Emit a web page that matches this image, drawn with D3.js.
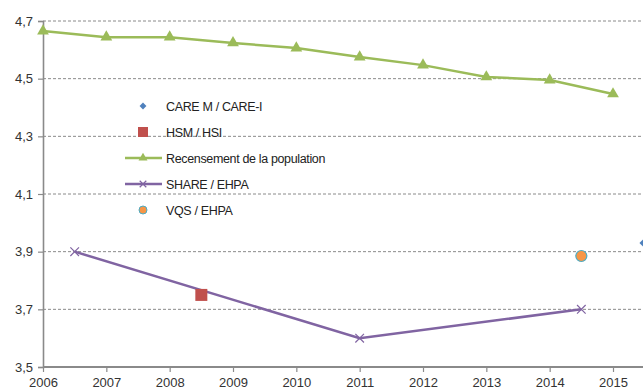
<!DOCTYPE html>
<html>
<head>
<meta charset="utf-8">
<script src="https://cdn.jsdelivr.net/npm/d3@7"></script>
<style>
  html, body { margin: 0; padding: 0; background: #fff; overflow: hidden; }
  svg { display: block; }
  text { font-family: Arial, "Liberation Sans", sans-serif; }
</style>
</head>
<body>
<svg id="chart" width="643" height="389"></svg>
<script>
// Tick labels
const yTicks = [3.5, 3.7, 3.9, 4.1, 4.3, 4.5, 4.7];
const xTicks = [2006, 2007, 2008, 2009, 2010, 2011, 2012, 2013, 2014, 2015];

// Series values
const recensementYears = [2006, 2007, 2008, 2009, 2010, 2011, 2012, 2013, 2014, 2015];
const recensementValues = [4.665, 4.644, 4.644, 4.624, 4.606, 4.575, 4.547, 4.506, 4.495, 4.447];
const shareYears = [2006.5, 2011, 2014.5];
const shareValues = [3.90, 3.60, 3.70];
const hsmYears = [2008.5];
const hsmValues = [3.75];
const vqsYears = [2014.5];
const vqsValues = [3.885];
const careYears = [2015.5];
const careValues = [3.93];

const legendLabels = ["CARE M / CARE-I", "HSM / HSI", "Recensement de la population", "SHARE / EHPA", "VQS / EHPA"];

const colors = {
  care: "#4F81BD",
  hsm: "#C0504D",
  rec: "#9BBB59",
  share: "#8064A2",
  vqs: "#F79646",
  vqsEdge: "#4BACC6"
};

const svg = d3.select("#chart");
const x = d3.scaleLinear().domain([2006, 2015]).range([43, 613]);
const y = d3.scaleLinear().domain([3.5, 4.7]).range([367, 21]);
const fmt = v => d3.format(".1f")(v).replace(".", ",");

// Horizontal dashed gridlines
svg.append("g").selectAll("line")
  .data(yTicks.filter(v => v > 3.5))
  .join("line")
  .attr("x1", 43).attr("x2", 643)
  .attr("y1", d => y(d)).attr("y2", d => y(d))
  .attr("stroke", "#8a8a8a").attr("stroke-width", 1)
  .attr("stroke-dasharray", "3,2");

// Y axis
const yAxis = svg.append("g").attr("transform", "translate(43,0)")
  .call(d3.axisLeft(y).tickValues(yTicks).tickFormat(fmt).tickSize(5).tickPadding(5));
yAxis.select(".domain").attr("stroke", "#8a8a8a").attr("stroke-width", 1.6);
yAxis.selectAll(".tick line").attr("stroke", "#8a8a8a").attr("stroke-width", 1.2);
yAxis.selectAll("text").attr("font-size", 13).attr("fill", "#333")
  .attr("font-family", "Arial, 'Liberation Sans', sans-serif");

// X axis
const xAxis = svg.append("g").attr("transform", "translate(0,367)")
  .call(d3.axisBottom(x).tickValues(xTicks).tickFormat(d3.format("d")).tickSize(5).tickPadding(6));
xAxis.select(".domain").attr("d", "M43,0H643").attr("stroke", "#8a8a8a").attr("stroke-width", 2);
xAxis.selectAll(".tick line").attr("stroke", "#8a8a8a").attr("stroke-width", 1.2);
xAxis.selectAll("text").attr("font-size", 13).attr("fill", "#333")
  .attr("font-family", "Arial, 'Liberation Sans', sans-serif");

const line = d3.line().x(d => x(d[0])).y(d => y(d[1]));

// Recensement de la population
const recData = d3.zip(recensementYears, recensementValues);
svg.append("path").datum(recData).attr("d", line)
  .attr("fill", "none").attr("stroke", colors.rec).attr("stroke-width", 2.5);
const tri = d3.symbol().type(d3.symbolTriangle).size(60);
svg.append("g").selectAll("path").data(recData).join("path")
  .attr("d", tri).attr("transform", d => `translate(${x(d[0])},${y(d[1])})`)
  .attr("fill", colors.rec);

// SHARE / EHPA
const shareData = d3.zip(shareYears, shareValues);
svg.append("path").datum(shareData).attr("d", line)
  .attr("fill", "none").attr("stroke", colors.share).attr("stroke-width", 2.5);
const cross = d3.symbol().type(d3.symbolX).size(50);
svg.append("g").selectAll("path").data(shareData).join("path")
  .attr("d", cross).attr("transform", d => `translate(${x(d[0])},${y(d[1])})`)
  .attr("fill", "none").attr("stroke", colors.share).attr("stroke-width", 1.2);

// HSM / HSI
svg.append("g").selectAll("rect").data(d3.zip(hsmYears, hsmValues)).join("rect")
  .attr("x", d => x(d[0]) - 6).attr("y", d => y(d[1]) - 6)
  .attr("width", 12).attr("height", 12).attr("fill", colors.hsm);

// VQS / EHPA
svg.append("g").selectAll("circle").data(d3.zip(vqsYears, vqsValues)).join("circle")
  .attr("cx", d => x(d[0])).attr("cy", d => y(d[1])).attr("r", 5.5)
  .attr("fill", colors.vqs).attr("stroke", colors.vqsEdge).attr("stroke-width", 1.2);

// CARE M / CARE-I
const diamond = d3.symbol().type(d3.symbolDiamond2).size(70);
svg.append("g").selectAll("path").data(d3.zip(careYears, careValues)).join("path")
  .attr("d", diamond).attr("transform", d => `translate(${x(d[0])},${y(d[1])})`)
  .attr("fill", colors.care);

// Legend
const lg = svg.append("g").attr("transform", "translate(0,0)");
const legendY = [106, 132, 158, 184, 210];
const mx = 143;
legendLabels.forEach((label, i) => {
  const ly = legendY[i];
  if (i === 0) {
    lg.append("path").attr("d", d3.symbol().type(d3.symbolDiamond2).size(30)())
      .attr("transform", `translate(${mx},${ly})`).attr("fill", colors.care);
  } else if (i === 1) {
    lg.append("rect").attr("x", mx - 5).attr("y", ly - 5).attr("width", 10).attr("height", 10)
      .attr("fill", colors.hsm);
  } else if (i === 2) {
    lg.append("line").attr("x1", 125).attr("x2", 162).attr("y1", ly).attr("y2", ly)
      .attr("stroke", colors.rec).attr("stroke-width", 2.5);
    lg.append("path").attr("d", d3.symbol().type(d3.symbolTriangle).size(35)())
      .attr("transform", `translate(${mx},${ly})`).attr("fill", colors.rec);
  } else if (i === 3) {
    lg.append("line").attr("x1", 125).attr("x2", 162).attr("y1", ly).attr("y2", ly)
      .attr("stroke", colors.share).attr("stroke-width", 2.5);
    lg.append("path").attr("d", d3.symbol().type(d3.symbolX).size(30)())
      .attr("transform", `translate(${mx},${ly})`)
      .attr("fill", "none").attr("stroke", colors.share).attr("stroke-width", 1.2);
  } else {
    lg.append("circle").attr("cx", mx).attr("cy", ly).attr("r", 4)
      .attr("fill", colors.vqs).attr("stroke", colors.vqsEdge).attr("stroke-width", 1);
  }
  lg.append("text").attr("x", 166).attr("y", ly + 4.5)
    .attr("font-size", 12.5).attr("fill", "#222").attr("letter-spacing", -0.35)
    .text(label);
});
</script>
</body>
</html>
